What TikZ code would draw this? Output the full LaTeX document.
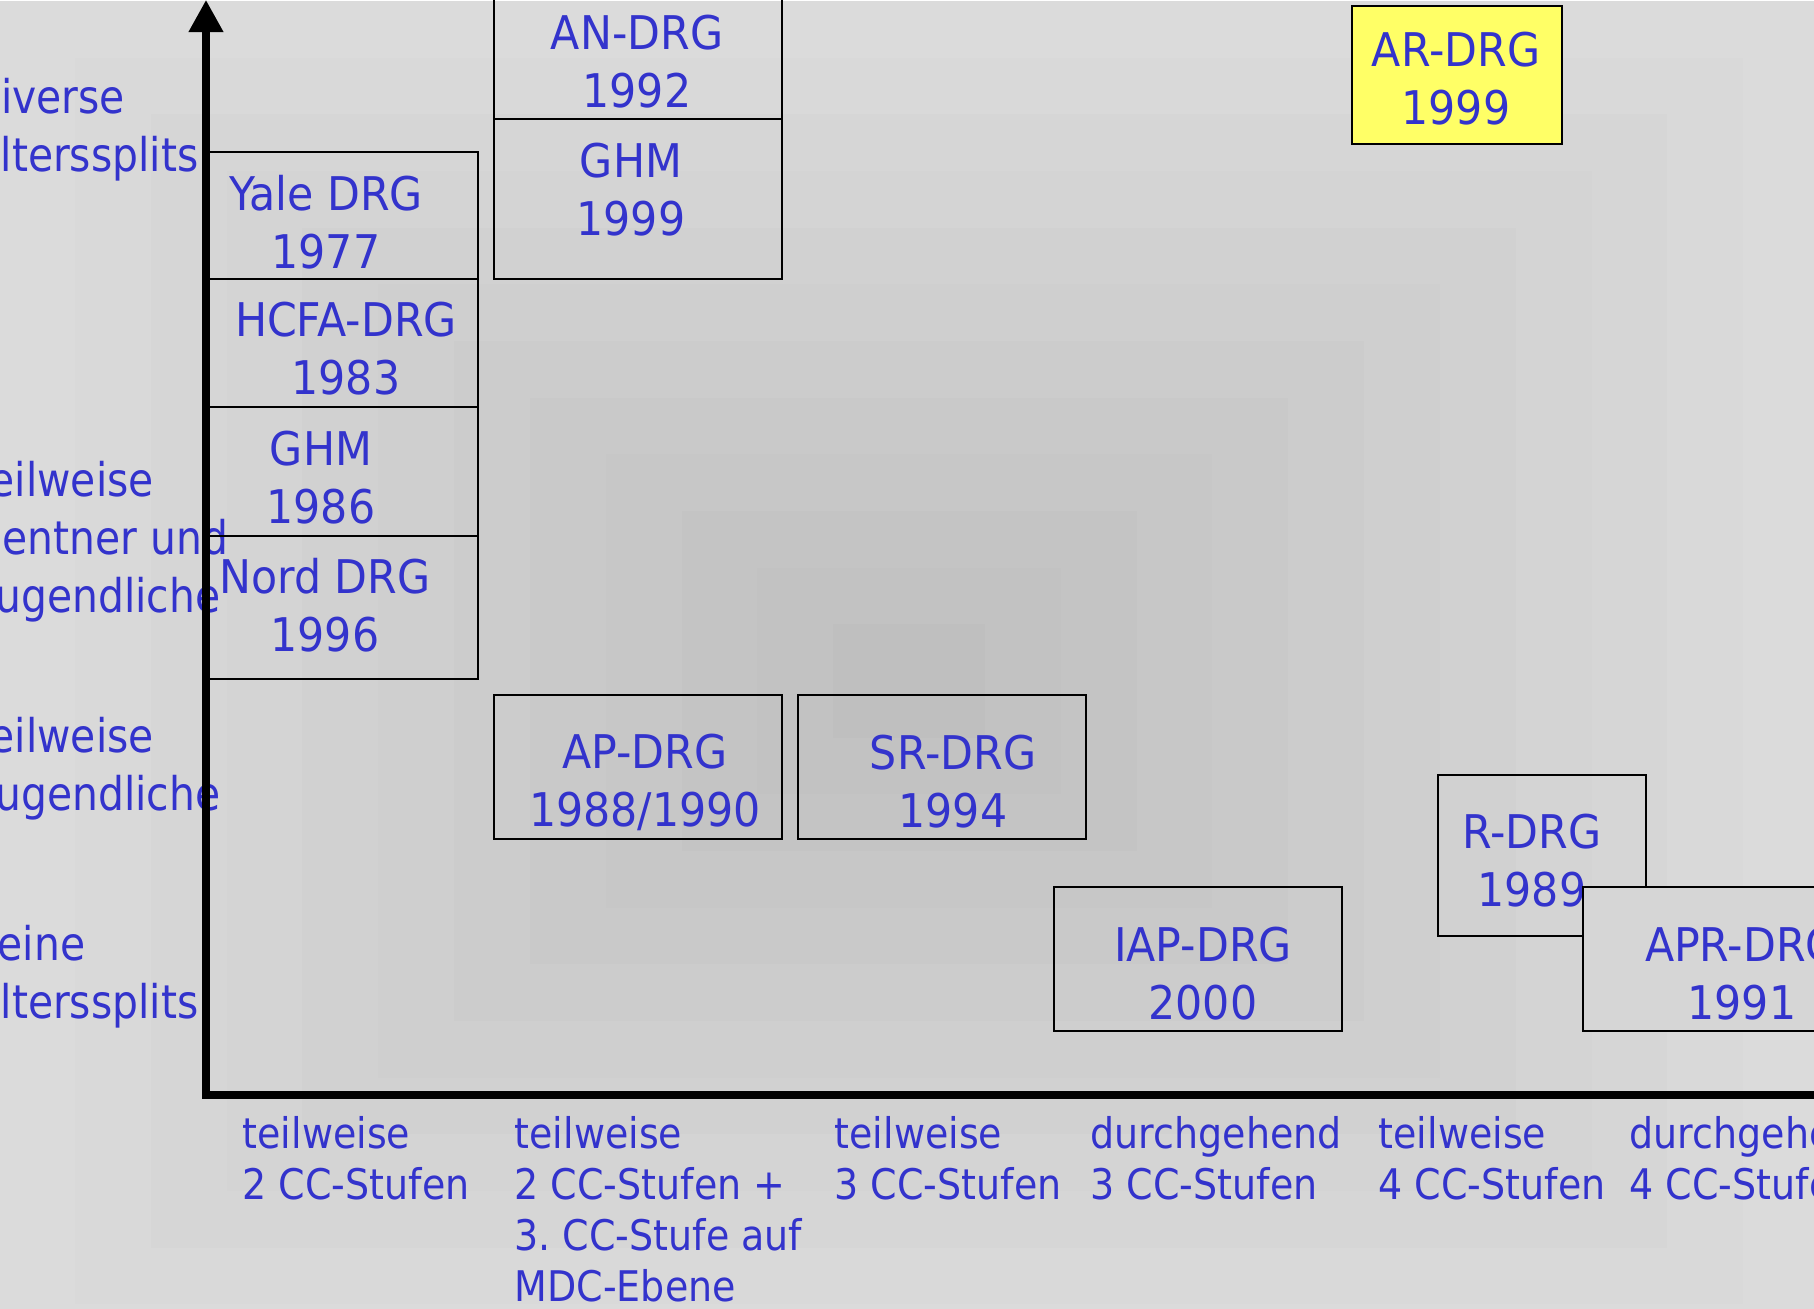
\documentclass[tikz,border=0pt]{standalone}
\usepackage{fontspec}
\setmainfont{DejaVu Sans}[FakeStretch=0.88]
\newfontfamily\boxfont{DejaVu Sans}[FakeStretch=0.92]
\newfontfamily\ccfont{DejaVu Sans}[FakeStretch=0.90]
\usepackage{xcolor}
\usepackage{tikz}
\usetikzlibrary{arrows.meta,positioning,calc}
\definecolor{drgblue}{RGB}{51,51,204}
\definecolor{arfill}{RGB}{255,255,102}
\frenchspacing

\begin{document}
\begin{tikzpicture}[x=0.01cm,y=-0.01cm,>=Latex]
\tikzstyle{drg}=[draw,line width=0.6pt,inner sep=0pt]
\tikzstyle{txt}=[text=drgblue,align=center,inner sep=0pt,font=\boxfont\fontsize{13.2}{16.5}\selectfont]
\tikzstyle{agelbl}=[text=drgblue,align=left,anchor=west,inner sep=0pt,font=\fontsize{13.2}{16.5}\selectfont]
\tikzstyle{cclbl}=[text=drgblue,align=left,anchor=north west,inner sep=0pt,font=\ccfont\fontsize{12}{14.5}\selectfont]
\tikzstyle{axis}=[line width=2pt]
\useasboundingbox (0,0) rectangle (1814,1309);
\clip (0,0) rectangle (1814,1309);
% background, darker towards the middle
\coordinate (mid) at (909,681);
\foreach \i in {0,...,11} {
  \pgfmathsetmacro\hw{910*(12-\i)/12}
  \pgfmathsetmacro\hh{680*(12-\i)/12}
  \pgfmathsetmacro\shade{14+\i}
  \fill[black!\shade] ($(mid)+(-\hw,-\hh)$) rectangle ($(mid)+(\hw,\hh)$);
}
% age splits
\node[agelbl] (age4) at (0,130) {\hspace*{0.005cm}iverse\\lterssplits};
\node[agelbl] (age3) at (-11,542) {eilweise\\\hspace*{0.129cm}entner und\\\hspace*{0.056cm}ugendliche};
\node[agelbl] (age2) at (-11,769) {eilweise\\\hspace*{0.056cm}ugendliche};
\node[agelbl] (age1) at (-3,977) {eine\\\hspace*{0.03cm}lterssplits};
% CC levels
\node[cclbl] (cc1) at (242,1116) {teilweise\\2 CC-Stufen};
\node[cclbl] (cc2) at (514,1116) {teilweise\\2 CC-Stufen +\\3. CC-Stufe auf\\MDC-Ebene};
\node[cclbl] (cc3) at (834,1116) {teilweise\\3 CC-Stufen};
\node[cclbl] (cc4) at (1090,1116) {durchgehend\\3 CC-Stufen};
\node[cclbl] (cc5) at (1378,1116) {teilweise\\4 CC-Stufen};
\node[cclbl] (cc6) at (1629,1116) {durchgehend\\4 CC-Stufen};
% systems
\node[drg,minimum width=2.70cm,minimum height=1.27cm] (yale) at (343,215.5) {};
\node[txt] (yaletxt) at (326,222) {Yale DRG\\1977};
\node[drg,minimum width=2.70cm,minimum height=1.28cm] (hcfa) at (343,343) {};
\node[txt] (hcfatxt) at (346,349) {HCFA-DRG\\1983};
\node[drg,minimum width=2.70cm,minimum height=1.29cm] (ghmA) at (343,471.5) {};
\node[txt] (ghmAtxt) at (321,478) {GHM\\1986};
\node[drg,minimum width=2.70cm,minimum height=1.43cm] (nord) at (343,607.5) {};
\node[txt] (nordtxt) at (325,605) {Nord DRG\\1996};
\node[drg,minimum width=2.88cm,minimum height=1.59cm] (an) at (638,39.5) {};
\node[txt] (antxt) at (637,62) {AN-DRG\\1992};
\node[drg,minimum width=2.88cm,minimum height=1.60cm] (ghmB) at (638,199) {};
\node[txt] (ghmBtxt) at (631,190) {GHM\\1999};
\node[drg,minimum width=2.88cm,minimum height=1.44cm] (ap) at (638,767) {};
\node[txt] (aptxt) at (645,782) {AP-DRG\\1988/1990};
\node[drg,minimum width=2.88cm,minimum height=1.44cm] (sr) at (942,767) {};
\node[txt] (srtxt) at (953,782) {SR-DRG\\1994};
\node[drg,minimum width=2.88cm,minimum height=1.44cm] (iap) at (1198,959) {};
\node[txt] (iaptxt) at (1203,974) {IAP-DRG\\2000};
\node[drg,minimum width=2.08cm,minimum height=1.61cm] (r) at (1542,855.5) {};
\node[txt] (rtxt) at (1532,861) {R-DRG\\1989};
\node[drg,fill=black!16,minimum width=2.88cm,minimum height=1.44cm] (apr) at (1727,959) {};
\node[txt] (aprtxt) at (1742,974) {APR-DRG\\1991};
\node[drg,fill=arfill,line width=0.8pt,minimum width=2.10cm,minimum height=1.38cm] (ar) at (1457,75) {};
\node[txt] (artxt) at (1456,79) {AR-DRG\\1999};
% axes
\coordinate (origin) at (206,1095);
\coordinate (ytop) at (206,0);
\coordinate (xend) at (1830,1095);
\draw[axis,{Triangle[width=9.4pt,length=9.1pt]}-] (ytop) -- (origin) -- (xend);
\end{tikzpicture}
\end{document}
